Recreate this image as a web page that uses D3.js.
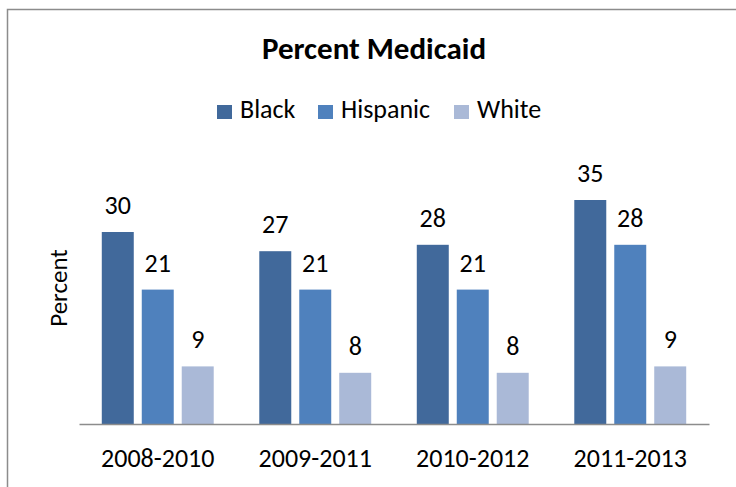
<!DOCTYPE html>
<html>
<head>
<meta charset="utf-8">
<script src="https://cdn.jsdelivr.net/npm/d3@7"></script>
<style>
  html, body { margin: 0; padding: 0; background: #fff; }
  svg text { font-family: Carlito, Calibri, Lato, "Open Sans", sans-serif; fill: #000; }
</style>
</head>
<body>
<svg id="chart" width="736" height="487"></svg>
<script>
// Periods, groups and their Medicaid percentages
const periods = ["2008-2010", "2009-2011", "2010-2012", "2011-2013"];
const groups = ["Black", "Hispanic", "White"];
const black = [30, 27, 28, 35];
const hispanic = [21, 21, 21, 28];
const white = [9, 8, 8, 9];
const colors = ["#41699b", "#4f81bd", "#aab9d7"];

const seriesValues = [black, hispanic, white];
const rows = periods.map((p, i) => ({
  period: p,
  values: groups.map((g, j) => ({ group: g, value: seriesValues[j][i] }))
}));

const FONT = "Carlito, Calibri, Lato, 'Open Sans', sans-serif";
const svg = d3.select("#chart");

// Outer frame
svg.append("rect")
  .attr("x", 7.5).attr("y", 9.5)
  .attr("width", 740).attr("height", 490)
  .attr("fill", "none").attr("stroke", "#8c8c8c").attr("stroke-width", 1.5);

// Title
svg.append("text")
  .attr("x", 374).attr("y", 59)
  .attr("text-anchor", "middle")
  .attr("font-size", 31).attr("font-weight", "bold")
  .text("Percent Medicaid");

// Scales
const x0 = d3.scaleBand().domain(periods).range([79, 709]).padding(0);
const x1 = d3.scaleBand().domain(groups).range([0, x0.bandwidth()])
  .paddingInner(0.2).paddingOuter(0.57);
const y = d3.scaleLinear().domain([0, 40]).range([424, 168]);

// Bars
const g = svg.append("g");
const grp = g.selectAll("g.period").data(rows).join("g")
  .attr("class", "period")
  .attr("transform", d => `translate(${x0(d.period)},0)`);

grp.selectAll("rect").data(d => d.values).join("rect")
  .attr("x", d => x1(d.group))
  .attr("y", d => y(d.value))
  .attr("width", x1.bandwidth())
  .attr("height", d => y(0) - y(d.value))
  .attr("fill", (d, i) => colors[i]);

// Value labels
grp.selectAll("text").data(d => d.values).join("text")
  .attr("x", d => x1(d.group) + x1.bandwidth() / 2)
  .attr("y", d => y(d.value) - 18)
  .attr("text-anchor", "middle")
  .attr("font-size", 26)
  .text(d => d.value);

// X axis
const xAxis = d3.axisBottom(x0).tickSize(0).tickPadding(43);
const ax = svg.append("g").attr("transform", `translate(0,${y(0)})`).call(xAxis);
ax.select(".domain").attr("stroke", "#8c8c8c").attr("stroke-width", 1.5);
ax.selectAll(".tick text")
  .attr("font-size", 26)
  .attr("dy", "0")
  .attr("fill", "#000")
  .style("font-family", FONT);

// Y axis title
svg.append("text")
  .attr("transform", "translate(67,288) rotate(-90)")
  .attr("text-anchor", "middle")
  .attr("font-size", 25)
  .text("Percent");

// Legend
const legendX = [217, 318, 454];
const legend = svg.append("g");
groups.forEach((name, i) => {
  legend.append("rect")
    .attr("x", legendX[i]).attr("y", 105)
    .attr("width", 15).attr("height", 14)
    .attr("fill", colors[i]);
  legend.append("text")
    .attr("x", legendX[i] + 23).attr("y", 118)
    .attr("font-size", 26)
    .text(name);
});
</script>
</body>
</html>
